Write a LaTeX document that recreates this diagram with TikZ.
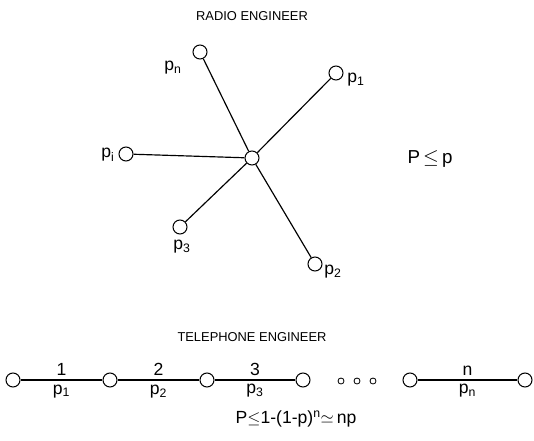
\documentclass[tikz,border=0pt]{standalone}
\usepackage{fontspec}
\setmainfont{Liberation Sans}
\usepackage{tikz}
\usetikzlibrary{positioning, calc}

\tikzset{
	stn/.style={circle, draw, line width=0.9pt, minimum size=14*0.03cm, inner sep=0pt},
	dot/.style={circle, draw, line width=0.7pt, minimum size=6*0.03cm, inner sep=0pt},
	lnk/.style={line width=1pt},
	thicklnk/.style={line width=2.2pt},
	lbl/.style={font=\fontsize{15}{17}\selectfont, inner sep=1pt},
	ttl/.style={font=\fontsize{11}{13}\selectfont}
}

\begin{document}
\begin{tikzpicture}[x=0.03cm, y=-0.03cm]
	\useasboundingbox (0,0) rectangle (534,440);
	% Radio
	\node[ttl] (radio) at (252,16) {RADIO ENGINEER};
	\node[stn] (hub) at (252,158) {};
	\node[stn] (sn) at (200,52) {};
	\node[stn] (s1) at (336,73) {};
	\node[stn] (si) at (126,154) {};
	\node[stn] (s3) at (180,227) {};
	\node[stn] (s2) at (315,264) {};
	\draw[lnk] (hub) -- (sn);
	\draw[lnk] (hub) -- (s1);
	\draw[lnk] (hub) -- (si);
	\draw[lnk] (hub) -- (s3);
	\draw[lnk] (hub) -- (s2);
	\node[lbl] (ln) at (173,68) {p\textsubscript{n}};
	\node[lbl] (l1) at (356,80) {p\textsubscript{1}};
	\node[lbl] (li) at (108,155) {p\textsubscript{i}};
	\node[lbl] (l3) at (182,247) {p\textsubscript{3}};
	\node[lbl] (l2) at (333,272) {p\textsubscript{2}};
	\node[lbl, font=\fontsize{16}{18}\selectfont] (prad) at (430,159) {P\,$\leq$\,p};
	% Telephone
	\node[ttl] (tel) at (252,337) {TELEPHONE ENGINEER};
	\node[stn] (c0) at (13,380) {};
	\node[stn] (c1) at (110,380) {};
	\node[stn] (c2) at (207,380) {};
	\node[stn] (c3) at (303,380) {};
	\node[dot] (d1) at (341,381) {};
	\node[dot] (d2) at (357,381) {};
	\node[dot] (d3) at (373,381) {};
	\node[stn] (cm) at (410,380) {};
	\node[stn] (cn) at (525,380) {};
	\draw[thicklnk] (c0) -- node[lbl, above=2pt] (e1) {1} node[lbl, below=2pt] (q1) {p\textsubscript{1}} (c1);
	\draw[thicklnk] (c1) -- node[lbl, above=2pt] (e2) {2} node[lbl, below=2pt] (q2) {p\textsubscript{2}} (c2);
	\draw[lnk] (c2) -- node[lbl, above=2pt] (e3) {3} node[lbl, below=2pt] (q3) {p\textsubscript{3}} (c3);
	\draw[lnk] (cm) -- node[lbl, above=2pt] (en) {n} node[lbl, below=2pt] (qn) {p\textsubscript{n}} (cn);
	\node[lbl] (ptel) at (296,419) {P$\leq$1-(1-p)\textsuperscript{n}$\simeq$\,np};
\end{tikzpicture}
\end{document}
